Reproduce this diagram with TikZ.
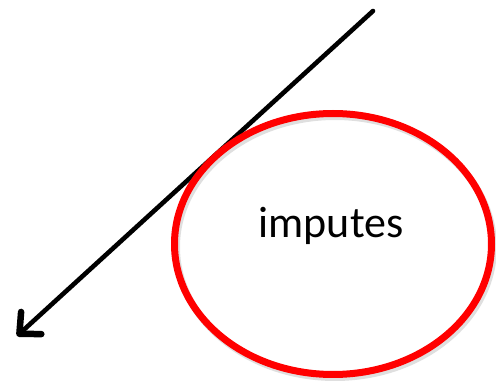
\documentclass[tikz,border=0pt]{standalone}
\usepackage{fontspec}
\setmainfont{Carlito}
\usetikzlibrary{arrows.meta,shapes.geometric}
\tikzset{
  pointer/.style={line width=4.6pt, line cap=round, -{Straight Barb[length=16pt, width=30pt, line width=6.5pt, round]}},
  ring/.style={draw=red, line width=7pt, ellipse, minimum width=317pt, minimum height=261pt, inner sep=0pt},
  ringshadow/.style={draw=black!25, line width=7pt, ellipse, minimum width=317pt, minimum height=261pt, inner sep=0pt},
}
\begin{document}
\begin{tikzpicture}[x=1pt,y=-1pt]
\useasboundingbox (0,0) rectangle (496,382);
\coordinate (start) at (373,11);
\coordinate (tip) at (17,336);
\node[ringshadow, opacity=0.5] (shadow) at (335,247) {};
\draw[pointer] (start) -- (tip);
\node[ring] (ell) at (333,244) {};
\node[font=\fontsize{44}{50}\selectfont, anchor=base] (txt) at (331,238) {imputes};
\end{tikzpicture}
\end{document}
